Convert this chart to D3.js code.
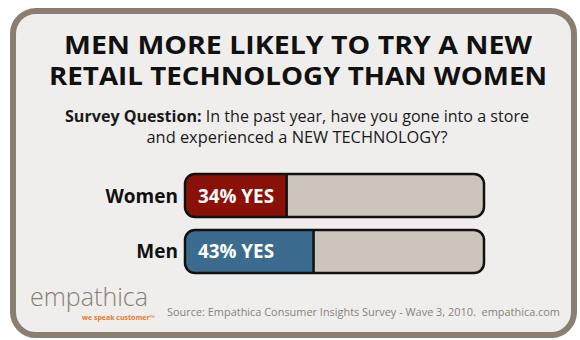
<!DOCTYPE html>
<html>
<head>
<meta charset="utf-8">
<script src="https://cdn.jsdelivr.net/npm/d3@7"></script>
<style>
  body { margin: 0; background: #fff; }
  text { font-family: "Open Sans", "Liberation Sans", sans-serif; }
</style>
</head>
<body>
<div id="chart"></div>
<script>
// data
var groups = ["Women", "Men"];
var yesPct = [34, 43];
var barColors = ["#8a1108", "#3b6c8f"];
var titleLines = ["MEN MORE LIKELY TO TRY A NEW", "RETAIL TECHNOLOGY THAN WOMEN"];
var questionLead = "Survey Question:";
var questionLines = [" In the past year, have you gone into a store", "and experienced a NEW TECHNOLOGY?"];
var sourceText = "Source: Empathica Consumer Insights Survey - Wave 3, 2010.  empathica.com";

var w = 580;
var h = 340;

var svg = d3.select('#chart')
  .append('svg')
    .attr('width', w)
    .attr('height', h);

// card
svg.append('rect')
  .attr('x', 14).attr('y', 12)
  .attr('width', 561).attr('height', 325)
  .attr('rx', 24)
  .attr('fill', '#c9c4bd')
  .attr('opacity', 0.6);
svg.append('rect')
  .attr('x', 13).attr('y', 11)
  .attr('width', 561).attr('height', 324)
  .attr('rx', 23)
  .attr('fill', '#efeeec')
  .attr('stroke', '#8a7e70')
  .attr('stroke-width', 6);

// title
svg.selectAll('.title-line')
  .data(titleLines)
  .enter()
  .append('text')
    .attr('class', 'title-line')
    .attr('x', 298)
    .attr('y', function(d, i) { return 54 + i * 31; })
    .attr('text-anchor', 'middle')
    .attr('font-size', 25.5)
    .attr('font-weight', 700)
    .attr('fill', '#111')
    .attr('textLength', function(d, i) { return i === 0 ? 468 : 498; })
    .attr('lengthAdjust', 'spacingAndGlyphs')
    .text(function(d) { return d; });

// survey question
var q1 = svg.append('text')
  .attr('x', 297).attr('y', 122)
  .attr('text-anchor', 'middle')
  .attr('font-size', 16)
  .attr('fill', '#1a1a1a')
  .attr('textLength', 464)
  .attr('lengthAdjust', 'spacingAndGlyphs')
  .attr('xml:space', 'preserve');
q1.append('tspan').attr('font-weight', 700).text(questionLead);
q1.append('tspan').text(questionLines[0]);

svg.append('text')
  .attr('x', 297).attr('y', 143)
  .attr('text-anchor', 'middle')
  .attr('font-size', 16)
  .attr('fill', '#1a1a1a')
  .attr('textLength', 301)
  .attr('lengthAdjust', 'spacingAndGlyphs')
  .text(questionLines[1]);

// bars
var x = d3.scaleLinear().domain([0, 100]).range([185, 484]);
var y = d3.scaleBand().domain(groups).range([174, 273]).paddingInner(0.232);

var defs = svg.append('defs');
groups.forEach(function(g, i) {
  defs.append('clipPath')
    .attr('id', 'clip-' + i)
    .append('rect')
      .attr('x', x(0)).attr('y', y(g))
      .attr('width', x(100) - x(0)).attr('height', y.bandwidth())
      .attr('rx', 10);
});

var row = svg.selectAll('.row')
  .data(groups)
  .enter()
  .append('g')
    .attr('class', 'row');

row.append('rect')
  .attr('x', x(0))
  .attr('y', function(d) { return y(d); })
  .attr('width', x(100) - x(0))
  .attr('height', y.bandwidth())
  .attr('rx', 10)
  .attr('fill', '#cdc5bb');

row.append('rect')
  .attr('clip-path', function(d, i) { return 'url(#clip-' + i + ')'; })
  .attr('x', x(0))
  .attr('y', function(d) { return y(d); })
  .attr('width', function(d, i) { return x(yesPct[i]) - x(0); })
  .attr('height', y.bandwidth())
  .attr('fill', function(d, i) { return barColors[i]; });

row.append('line')
  .attr('x1', function(d, i) { return x(yesPct[i]); })
  .attr('x2', function(d, i) { return x(yesPct[i]); })
  .attr('y1', function(d) { return y(d); })
  .attr('y2', function(d) { return y(d) + y.bandwidth(); })
  .attr('stroke', '#111')
  .attr('stroke-width', 2.5);

row.append('rect')
  .attr('x', x(0))
  .attr('y', function(d) { return y(d); })
  .attr('width', x(100) - x(0))
  .attr('height', y.bandwidth())
  .attr('rx', 10)
  .attr('fill', 'none')
  .attr('stroke', '#111')
  .attr('stroke-width', 2.5);

// group labels
row.append('text')
  .attr('x', x(0) - 7)
  .attr('y', function(d) { return y(d) + y.bandwidth() / 2 + 7; })
  .attr('text-anchor', 'end')
  .attr('font-size', 19)
  .attr('font-weight', 700)
  .attr('fill', '#111')
  .text(function(d) { return d; });

// value labels
row.append('text')
  .attr('x', x(0) + 13)
  .attr('y', function(d) { return y(d) + y.bandwidth() / 2 + 7; })
  .attr('font-size', 19)
  .attr('font-weight', 700)
  .attr('fill', '#fff')
  .attr('textLength', 76)
  .attr('lengthAdjust', 'spacingAndGlyphs')
  .text(function(d, i) { return yesPct[i] + '% YES'; });

// logo
svg.append('text')
  .attr('x', 30).attr('y', 306)
  .attr('font-size', 26)
  .attr('font-weight', 300)
  .attr('fill', '#8a7e70')
  .attr('textLength', 118)
  .attr('lengthAdjust', 'spacingAndGlyphs')
  .text('empathica');
svg.append('text')
  .attr('x', 82).attr('y', 320)
  .attr('font-size', 6.5)
  .attr('font-weight', 700)
  .attr('fill', '#e8782e')
  .attr('textLength', 73)
  .attr('lengthAdjust', 'spacingAndGlyphs')
  .text('we speak customer\u2122');

// source
svg.append('text')
  .attr('x', 167).attr('y', 316)
  .attr('font-size', 10)
  .attr('fill', '#8a8278')
  .attr('textLength', 393)
  .attr('lengthAdjust', 'spacingAndGlyphs')
  .attr('xml:space', 'preserve')
  .text(sourceText);
</script>
</body>
</html>
